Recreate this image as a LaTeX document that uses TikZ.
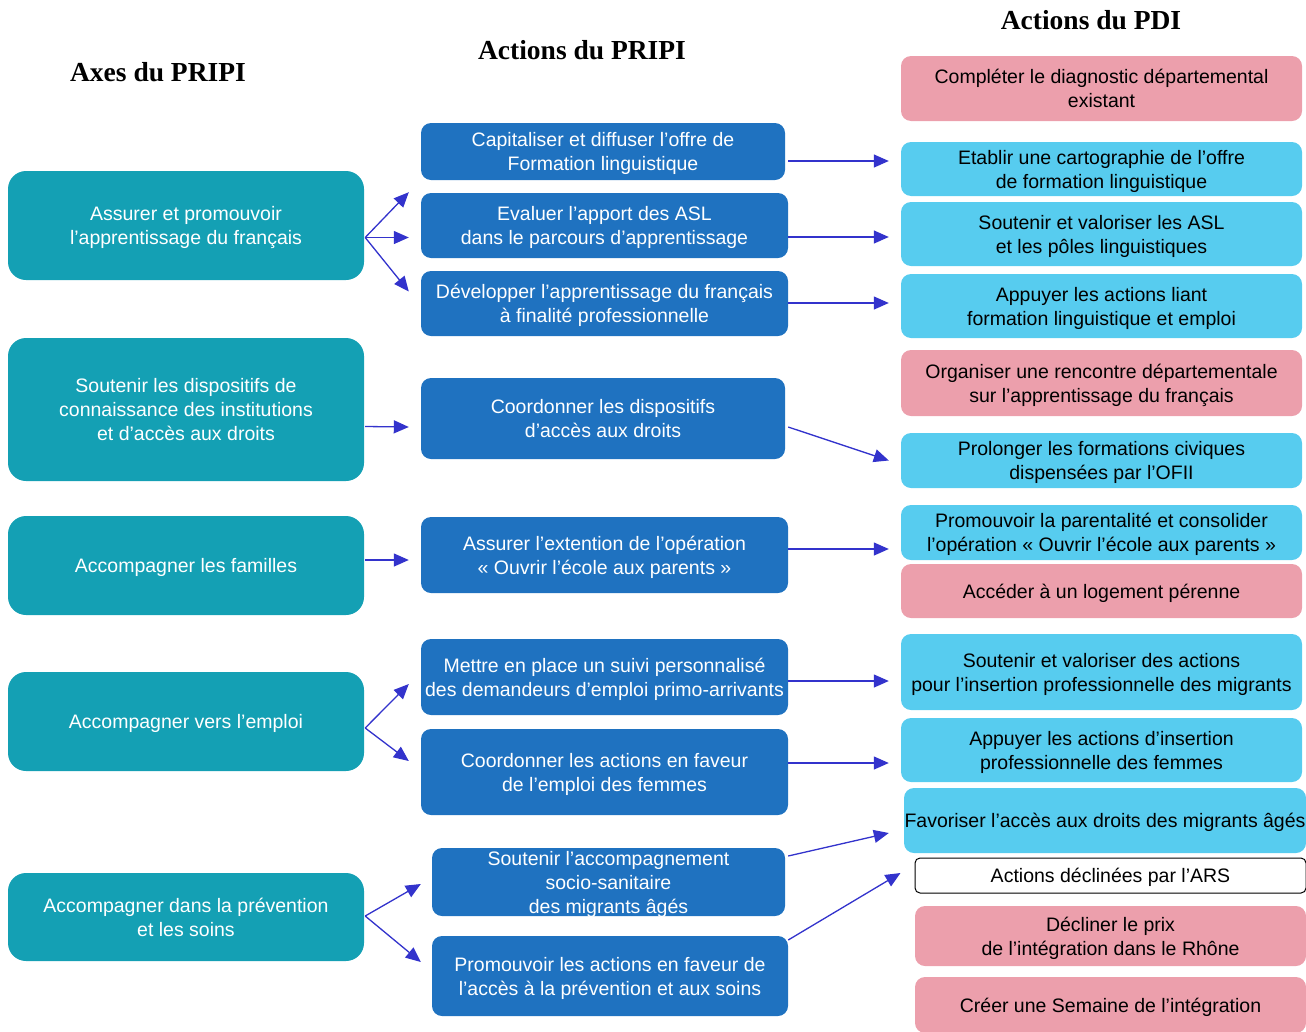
\documentclass[tikz,border=0pt]{standalone}
\usepackage{fontspec}
\setmainfont{Liberation Sans}
\newfontfamily\titlefont{Liberation Serif}
\usetikzlibrary{arrows.meta,calc}

\definecolor{axeteal}{HTML}{14A0B4}
\definecolor{pripiblue}{HTML}{1F72C0}
\definecolor{pdiblue}{HTML}{57CCEF}
\definecolor{pdipink}{HTML}{EC9FAC}
\definecolor{arrowblue}{HTML}{3333CC}

\begin{document}
\begin{tikzpicture}
 [x=1pt, y=-1pt,
  box/.style={inner sep=0pt, align=center, text depth=0pt, font=\fontsize{19.5}{24}\selectfont},
  axe node/.style={box, fill=axeteal, text=white, rounded corners=18pt, minimum width=356pt},
  pripi node/.style={box, fill=pripiblue, text=white, rounded corners=10pt, minimum width=367pt},
  pdi node/.style={box, fill=pdiblue, text=black, rounded corners=10pt, minimum width=401pt},
  pink node/.style={box, fill=pdipink, text=black, rounded corners=10pt, minimum width=401pt},
  title node/.style={font=\titlefont\bfseries\fontsize{27.5}{30}\selectfont},
  arr/.style={-{Triangle[length=15pt,width=13pt]}, draw=arrowblue, fill=arrowblue, line width=1.3pt}]

\useasboundingbox (0,0) rectangle (1306,1031);

\node[title node] (t1) at (158,72) {Axes du PRIPI};
\node[title node] (t2) at (582,50) {Actions du PRIPI};
\node[title node] (t3) at (1091,20) {Actions du PDI};

% axes
\node[axe node, minimum height=109pt] (l1) at (186,225.5) {Assurer et promouvoir\\l’apprentissage du français};
\node[axe node, minimum height=143pt] (l2) at (186,409.5) {Soutenir les dispositifs de\\connaissance des institutions\\et d’accès aux droits};
\node[axe node, minimum height=99pt] (l3) at (186,565.5) {Accompagner les familles};
\node[axe node, minimum height=99pt] (l4) at (186,721.5) {Accompagner vers l’emploi};
\node[axe node, minimum height=88pt] (l5) at (186,917) {Accompagner dans la prévention\\et les soins};

% actions du PRIPI
\node[pripi node, minimum width=364pt, minimum height=57pt] (m1) at (603,151.5) {Capitaliser et diffuser l’offre de\\Formation linguistique};
\node[pripi node, minimum height=65pt] (m2) at (604.5,225.5) {Evaluer l’apport des ASL\\dans le parcours d’apprentissage};
\node[pripi node, minimum height=65pt] (m3) at (604.5,303.5) {Développer l’apprentissage du français\\à finalité professionnelle};
\node[pripi node, minimum width=364pt, minimum height=81pt] (m4) at (603,418.5) {Coordonner les dispositifs\\d’accès aux droits};
\node[pripi node, minimum height=76pt] (m5) at (604.5,555) {Assurer l’extention de l’opération\\« Ouvrir l’école aux parents »};
\node[pripi node, minimum height=76pt] (m6) at (604.5,677) {Mettre en place un suivi personnalisé\\des demandeurs d’emploi primo-arrivants};
\node[pripi node, minimum height=86pt] (m7) at (604.5,772) {Coordonner les actions en faveur\\de l’emploi des femmes};
\node[pripi node, minimum width=353pt, minimum height=68pt] (m8) at (608.5,882) {Soutenir l’accompagnement\\socio-sanitaire\\des migrants âgés};
\node[pripi node, minimum width=356pt, minimum height=80pt] (m9) at (610,976) {Promouvoir les actions en faveur de\\l’accès à la prévention et aux soins};

% actions du PDI
\node[pink node, minimum height=65pt] (r1) at (1101.5,88.5) {Compléter le diagnostic départemental\\existant};
\node[pdi node, minimum height=54pt] (r2) at (1101.5,169) {Etablir une cartographie de l’offre\\de formation linguistique};
\node[pdi node, minimum height=64pt] (r3) at (1101.5,234) {Soutenir et valoriser les ASL\\et les pôles linguistiques};
\node[pdi node, minimum height=64pt] (r4) at (1101.5,306) {Appuyer les actions liant\\formation linguistique et emploi};
\node[pink node, minimum height=66pt] (r5) at (1101.5,383) {Organiser une rencontre départementale\\sur l’apprentissage du français};
\node[pdi node, minimum height=55pt] (r6) at (1101.5,460.5) {Prolonger les formations civiques\\dispensées par l’OFII};
\node[pdi node, minimum height=55pt] (r7) at (1101.5,532.5) {Promouvoir la parentalité et consolider\\l’opération « Ouvrir l’école aux parents »};
\node[pink node, minimum height=54pt] (r8) at (1101.5,591) {Accéder à un logement pérenne};
\node[pdi node, minimum height=76pt] (r9) at (1101.5,672) {Soutenir et valoriser des actions\\pour l’insertion professionnelle des migrants};
\node[pdi node, minimum height=64pt] (r10) at (1101.5,750) {Appuyer les actions d’insertion\\professionnelle des femmes};
\node[pdi node, minimum width=402pt, minimum height=65pt] (r11) at (1105,820.5) {Favoriser l’accès aux droits des migrants âgés};
\node[box, draw=black, line width=1pt, fill=white, rounded corners=5pt, minimum width=391pt, minimum height=35pt] (r12) at (1110.5,875.5) {Actions déclinées par l’ARS};
\node[pink node, minimum width=391pt, minimum height=60pt] (r13) at (1110.5,936) {Décliner le prix\\de l’intégration dans le Rhône};
\node[pink node, minimum width=391pt, minimum height=56pt] (r14) at (1110.5,1005) {Créer une Semaine de l’intégration};

% axes -> actions du PRIPI
\coordinate (l1o) at ($(l1.east)+(1,12)$);
\draw[arr] (l1o) -- ($(m1.south west)+(-12,12)$);
\draw[arr] (l1o) -- ($(m2.west)+(-12,12)$);
\draw[arr] (l1o) -- ($(m3.west)+(-12,-12)$);
\draw[arr] ($(l2.east)+(1,17)$) -- ($(m4.west)+(-12,8.5)$);
\draw[arr] ($(l3.east)+(1,-5.5)$) -- ($(m5.west)+(-12,5)$);
\coordinate (l4o) at ($(l4.east)+(1,6.5)$);
\draw[arr] (l4o) -- ($(m6.west)+(-12,7)$);
\draw[arr] (l4o) -- ($(m7.west)+(-12,-11)$);
\coordinate (l5o) at ($(l5.east)+(1,-1)$);
\draw[arr] (l5o) -- ($(m8.west)+(-11,2)$);
\draw[arr] (l5o) -- ($(m9.west)+(-11,-14)$);

% actions du PRIPI -> actions du PDI
\draw[arr] ($(m1.east)+(3,9.5)$) -- ($(r2.west)+(-12,-8)$);
\draw[arr] ($(m2.east)+(0,11.5)$) -- ($(r3.west)+(-12,3)$);
\draw[arr] ($(m3.east)+(0,-0.5)$) -- ($(r4.west)+(-12,-3)$);
\draw[arr] ($(m4.east)+(3,8.5)$) -- ($(r6.west)+(-12,0)$);
\draw[arr] ($(m5.east)+(0,-6)$) -- ($(r7.west)+(-12,16.5)$);
\draw[arr] ($(m6.east)+(0,4)$) -- ($(r9.west)+(-12,9)$);
\draw[arr] ($(m7.east)+(0,-9)$) -- ($(r10.west)+(-12,13)$);
\draw[arr] ($(m8.east)+(3,-26)$) -- ($(r11.west)+(-15,12.5)$);
\draw[arr] ($(m9.east)+(0,-36)$) -- ($(r12.west)+(-14,-2.5)$);

\end{tikzpicture}
\end{document}
